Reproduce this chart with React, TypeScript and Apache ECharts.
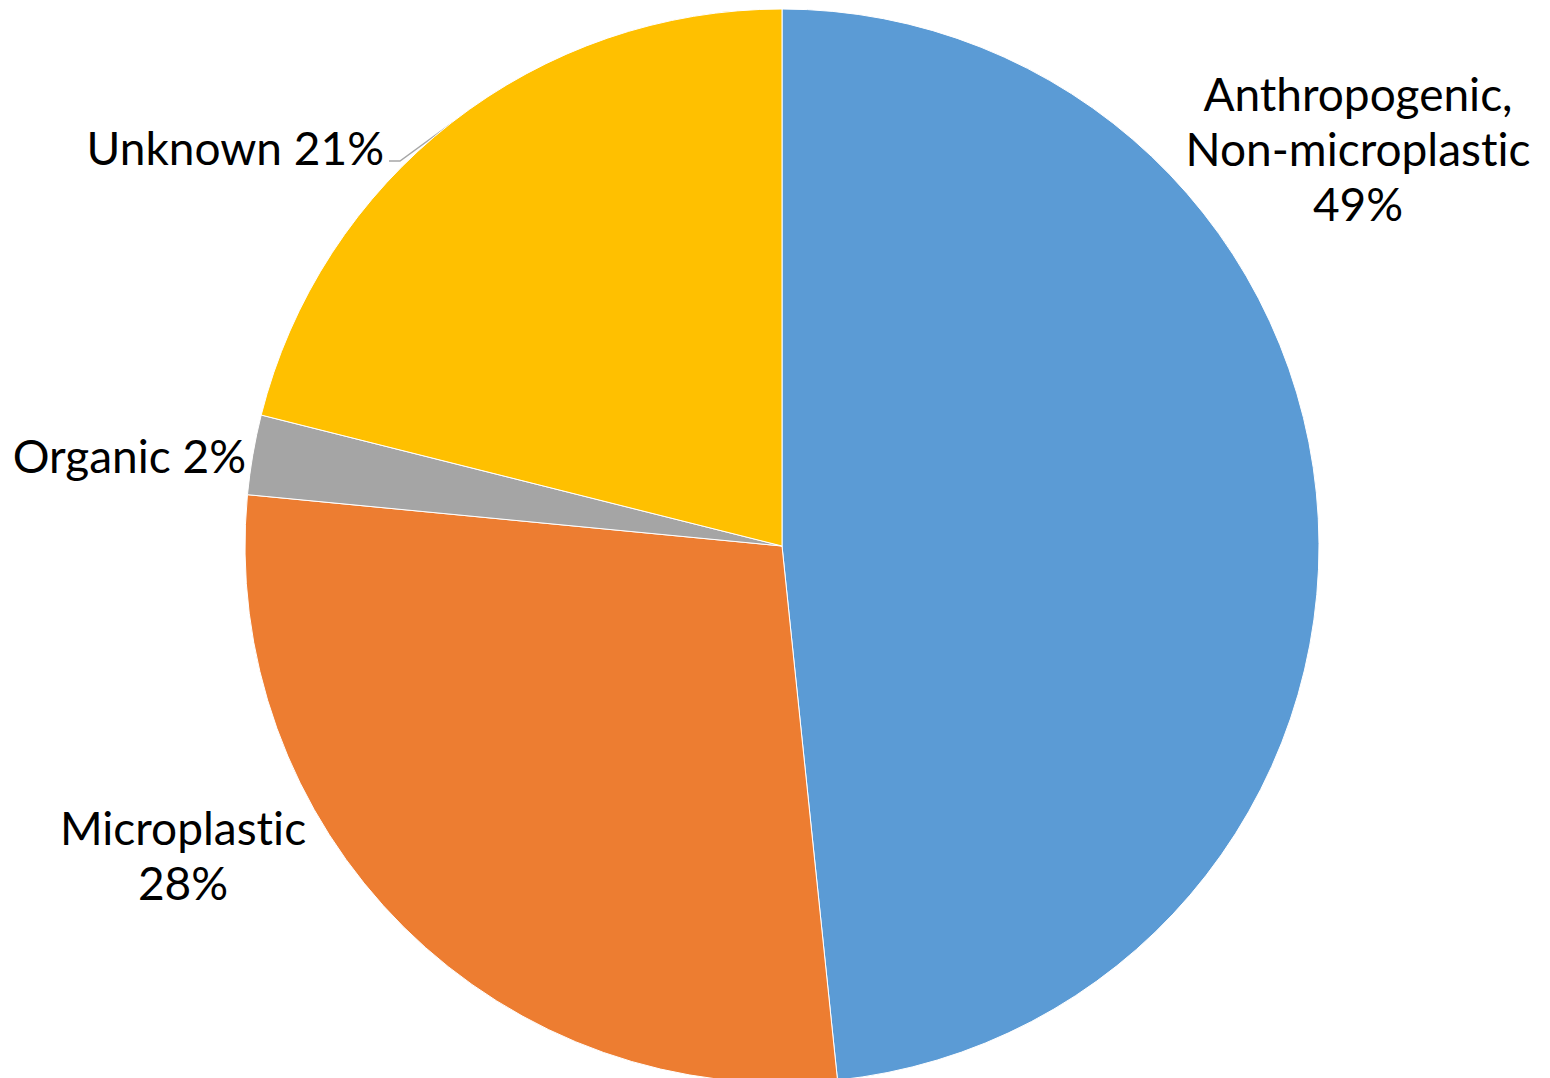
import React, { useEffect, useRef } from "react";
import * as echarts from "echarts";

const categories = ["Anthropogenic,\nNon-microplastic", "Microplastic", "Organic", "Unknown"];
const shares = [48.4, 28.2, 2.4, 21.1];
const percentLabels = ["49%", "28%", "2%", "21%"];
const colors = ["#5B9BD5", "#ED7D31", "#A5A5A5", "#FFC000"];

const labelSpots = [
  { x: 1358, y: 148, align: "center" },
  { x: 183, y: 855, align: "center" },
  { x: 246, y: 455, align: "right" },
  { x: 384, y: 147, align: "right" },
];

export default function App() {
  const ref = useRef<HTMLDivElement>(null);
  useEffect(() => {
    document.body.style.margin = "0";
    const chart = echarts.init(ref.current!, null, { renderer: "svg" });
    const sep = (i: number) => (i === 0 || i === 1 ? "\n" : " ");
    chart.setOption({
      animation: false,
      backgroundColor: "#ffffff",
      series: [
        {
          type: "pie",
          center: [782, 546],
          radius: 537,
          startAngle: 90,
          clockwise: true,
          avoidLabelOverlap: false,
          itemStyle: { borderColor: "#ffffff", borderWidth: 1 },
          label: {
            show: true,
            position: "outside",
            fontFamily: "Lato",
            fontSize: 46,
            lineHeight: 55,
            color: "#000000",
            formatter: (p: any) => p.name + sep(p.dataIndex) + percentLabels[p.dataIndex],
          },
          labelLine: { show: false },
          labelLayout: (params: any) => {
            const s = labelSpots[params.dataIndex];
            const out: any = { x: s.x, y: s.y, align: s.align, verticalAlign: "middle" };
            if (params.dataIndex === 3) {
              out.labelLinePoints = [[389, 161], [400, 161], [452, 123]];
            }
            return out;
          },
          data: categories.map((name, i) => ({
            name,
            value: shares[i],
            itemStyle: { color: colors[i] },
            label: { textAlign: labelSpots[i].align },
            labelLine:
              i === 3
                ? { show: true, length: 10, length2: 10, lineStyle: { color: "#A6A6A6", width: 1.5 } }
                : { show: false },
          })),
        },
      ],
    });
    return () => chart.dispose();
  }, []);
  return (
    <>
      <style>{"svg text { font-variant-ligatures: none; font-feature-settings: 'liga' 0, 'clig' 0; }"}</style>
      <div ref={ref} style={{ width: 1550, height: 1078 }} />
    </>
  );
}
